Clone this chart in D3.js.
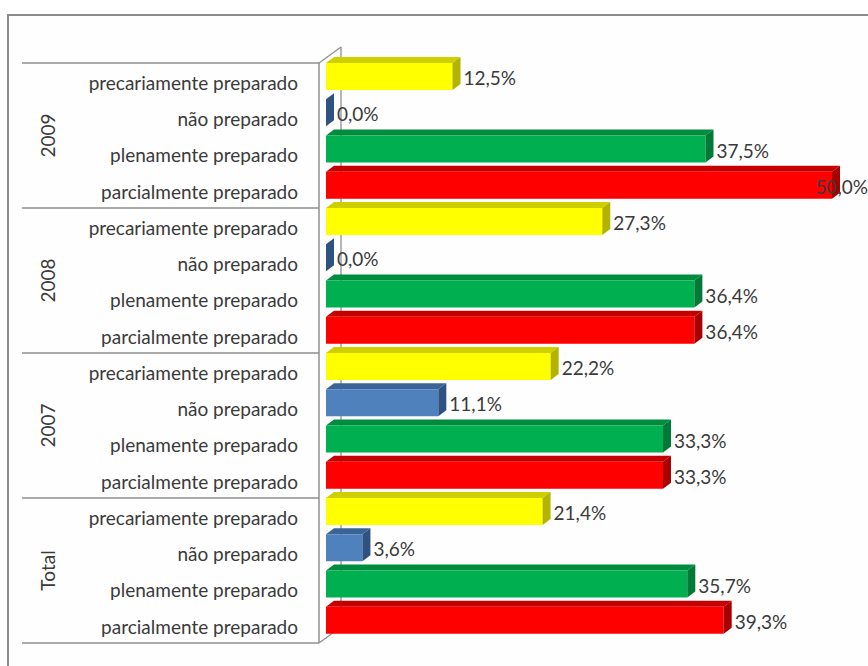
<!DOCTYPE html>
<html>
<head>
<meta charset="utf-8">
<script src="https://cdn.jsdelivr.net/npm/d3@7"></script>
<style>
  html, body { margin: 0; padding: 0; background: #fff; }
  svg { display: block; font-family: Lato, "Open Sans", sans-serif; }
</style>
</head>
<body>
<div class="chartContainer"></div>
<script>
// Data
var groups = ["2009", "2008", "2007", "Total"];
var categories = [
  "precariamente preparado",
  "não preparado",
  "plenamente preparado",
  "parcialmente preparado"
];
var values2009 = [12.5, 0.0, 37.5, 50.0];
var values2008 = [27.3, 0.0, 36.4, 36.4];
var values2007 = [22.2, 11.1, 33.3, 33.3];
var valuesTotal = [21.4, 3.6, 35.7, 39.3];

document.addEventListener("DOMContentLoaded", function () {
  const W = 868;
  const H = 666;
  const TOP = 63;
  const BOTTOM = 643;
  const DX = 8;   // 3d depth of bars
  const DY = -6;
  const WALL_DX = 22;
  const WALL_DY = -16;

  var seriesByGroup = [values2009, values2008, values2007, valuesTotal];

  // one row per bar, top to bottom
  var rows = [];
  groups.forEach((g, gi) => {
    categories.forEach((c, ci) => {
      rows.push({ key: g + "|" + c, group: g, cat: c, ci: ci, value: seriesByGroup[gi][ci] });
    });
  });

  var faceColors = [
    { front: "#ffff00", top: "#cfcf00", side: "#b3b300" },
    { front: "#4f81bd", top: "#3a6496", side: "#2f5380" },
    { front: "#00b050", top: "#008c3f", side: "#007a36" },
    { front: "#ff0000", top: "#c40000", side: "#a80000" }
  ];

  var y = d3.scaleBand().domain(rows.map((d) => d.key)).range([TOP, BOTTOM]).padding(0);
  var yGroup = d3.scaleBand().domain(groups).range([TOP, BOTTOM]).padding(0);
  var x = d3.scaleLinear().domain([0, 50]).range([326, 832]);
  var barH = y.bandwidth() * 0.745;
  var textColor = "#3a3a3a";

  const svg = d3
    .select(".chartContainer")
    .append("svg")
    .attr("width", W)
    .attr("height", H);

  // Outer frame
  svg
    .append("rect")
    .attr("x", 8)
    .attr("y", 15)
    .attr("width", W + 10)
    .attr("height", H + 10)
    .attr("fill", "#fefefe")
    .attr("stroke", "#8c8c8c")
    .attr("stroke-width", 2);

  var axisX = x(0) - 7;
  var gridColor = "#8f8f8f";

  // Back wall line and floor edges
  svg
    .append("line")
    .attr("x1", axisX + WALL_DX)
    .attr("x2", axisX + WALL_DX)
    .attr("y1", TOP + WALL_DY)
    .attr("y2", BOTTOM + WALL_DY)
    .attr("stroke", gridColor)
    .attr("stroke-width", 1.3);
  [TOP, BOTTOM].forEach((yy) => {
    svg
      .append("line")
      .attr("x1", axisX)
      .attr("y1", yy)
      .attr("x2", axisX + WALL_DX)
      .attr("y2", yy + WALL_DY)
      .attr("stroke", gridColor)
      .attr("stroke-width", 1.3);
  });

  // Bars
  var bars = svg.append("g").attr("class", "bars");
  rows.forEach((d) => {
    var x0 = x(0);
    var x1 = x(d.value);
    var y0 = y(d.key);
    var c = faceColors[d.ci];
    var g = bars.append("g");
    if (x1 > x0) {
      g.append("polygon")
        .attr("points", [[x0, y0], [x0 + DX, y0 + DY], [x1 + DX, y0 + DY], [x1, y0]].join(" "))
        .attr("fill", c.top);
      g.append("rect")
        .attr("x", x0)
        .attr("y", y0)
        .attr("width", x1 - x0)
        .attr("height", barH)
        .attr("fill", c.front);
    }
    g.append("polygon")
      .attr("points", [[x1, y0], [x1 + DX, y0 + DY], [x1 + DX, y0 + DY + barH], [x1, y0 + barH]].join(" "))
      .attr("fill", c.side);
  });

  // Value labels
  svg
    .append("g")
    .selectAll("text")
    .data(rows)
    .enter()
    .append("text")
    .attr("x", (d) => x(d.value) + DX + 3)
    .attr("y", (d) => y(d.key) + barH / 2 + 2)
    .attr("dy", "0.35em")
    .attr("fill", textColor)
    .style("font-size", "19px")
    .text((d) => d.value.toFixed(1).replace(".", ",") + "%")
    .each(function () {
      var w = this.getComputedTextLength();
      var xx = +this.getAttribute("x");
      if (xx + w > W) this.setAttribute("x", W - w);
    });

  // Front axis line and category separators
  svg
    .append("line")
    .attr("x1", axisX)
    .attr("x2", axisX)
    .attr("y1", TOP)
    .attr("y2", BOTTOM)
    .attr("stroke", gridColor)
    .attr("stroke-width", 1.5);
  svg
    .append("g")
    .selectAll("line")
    .data(groups.concat(["end"]))
    .enter()
    .append("line")
    .attr("x1", 22)
    .attr("x2", axisX)
    .attr("y1", (d, i) => (i < groups.length ? yGroup(d) : BOTTOM))
    .attr("y2", (d, i) => (i < groups.length ? yGroup(d) : BOTTOM))
    .attr("stroke", gridColor)
    .attr("stroke-width", 1.5);

  // Category labels
  svg
    .append("g")
    .selectAll("text")
    .data(rows)
    .enter()
    .append("text")
    .attr("x", 298)
    .attr("y", (d) => y(d.key) + y.bandwidth() / 2 + 2)
    .attr("dy", "0.35em")
    .attr("text-anchor", "end")
    .attr("fill", textColor)
    .style("font-size", "19px")
    .text((d) => d.cat);

  // Group labels
  svg
    .append("g")
    .selectAll("text")
    .data(groups)
    .enter()
    .append("text")
    .attr("transform", (d) => "translate(48," + (yGroup(d) + yGroup.bandwidth() / 2) + ") rotate(-90)")
    .attr("dy", "0.35em")
    .attr("text-anchor", "middle")
    .attr("fill", textColor)
    .style("font-size", "19px")
    .text((d) => d);
});
</script>
</body>
</html>
